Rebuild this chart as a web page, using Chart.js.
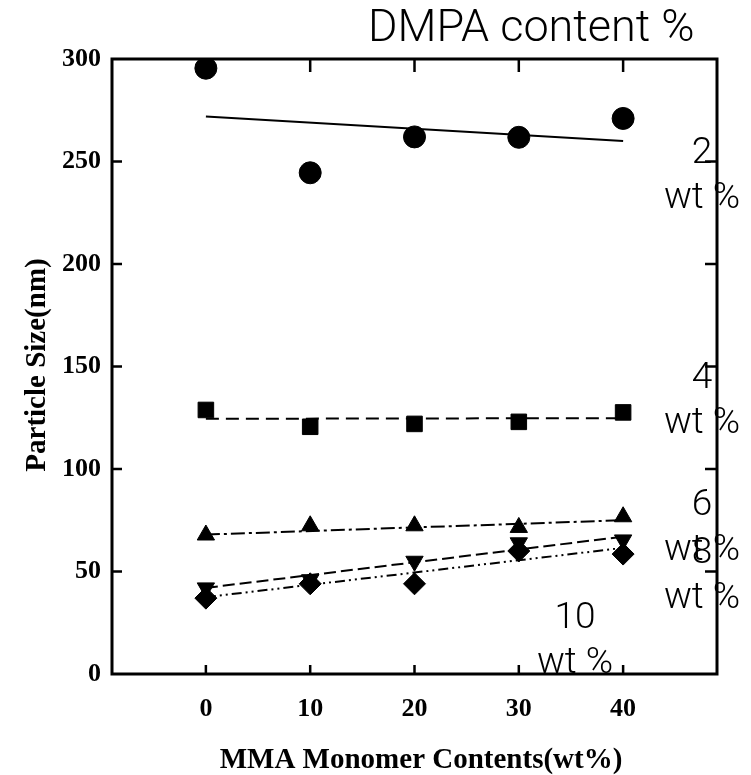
<!DOCTYPE html>
<html>
<head>
<meta charset="utf-8">
<script src="https://cdn.jsdelivr.net/npm/chart.js@4.4.1/dist/chart.umd.min.js"></script>
<style>
  html, body { margin: 0; padding: 0; background: #fff; }
</style>
</head>
<body>
<canvas id="particulas" width="751" height="775"></canvas>
<script>
// MMA monomer content (wt%) on the x axis
const mmaContent = [0, 10, 20, 30, 40];

// particle size (nm) for each DMPA content
const dmpa2 = [295.5, 244.5, 262, 261.8, 271];
const dmpa4 = [128.8, 120.6, 122, 123, 127.6];
const dmpa6 = [67.8, 72.3, 72.3, 71.5, 76.7];
const dmpa8 = [42, 46, 55, 64, 65.4];
const dmpa10 = [37, 44, 44, 60, 58.5];

// trend lines, drawn from the first to the last x value
const fitX = [0, 40];
const fit2 = [272, 260];
const fit4 = [124.5, 124.8];
const fit6 = [68, 75];
const fit8 = [42, 67];
const fit10 = [37.5, 61.5];

const xTicks = [0, 10, 20, 30, 40];
const yTicks = [0, 50, 100, 150, 200, 250, 300];
const dmpaLabels = ["2", "4", "6", "8", "10"];
const unitLabel = "wt %";

const pts = (xs, ys) => xs.map((x, i) => ({ x: x, y: ys[i] }));

function marcadores(data, style, radius, rotation) {
  return {
    data: pts(mmaContent, data),
    showLine: false,
    pointStyle: style,
    pointRadius: radius,
    pointRotation: rotation || 0,
    backgroundColor: "#000",
    borderColor: "#000",
    borderWidth: 1,
  };
}

function tendencia(data, dash) {
  return {
    data: pts(fitX, data),
    showLine: true,
    pointRadius: 0,
    borderColor: "#000",
    borderWidth: 2,
    borderDash: dash,
    fill: false,
  };
}

const serif = "'Liberation Serif', 'Times New Roman', serif";
const sans = "Roboto, 'Liberation Sans', sans-serif";

// box, inward ticks and free text
const moldura = {
  id: "moldura",
  afterDraw(chart) {
    const c = chart.ctx;
    const a = chart.chartArea;
    const sx = chart.scales.x;
    const sy = chart.scales.y;
    c.save();
    c.strokeStyle = "#000";
    c.lineWidth = 3;
    c.strokeRect(a.left, a.top, a.right - a.left, a.bottom - a.top);
    c.lineWidth = 2.5;
    c.beginPath();
    xTicks.forEach(v => {
      const px = sx.getPixelForValue(v);
      c.moveTo(px, a.bottom); c.lineTo(px, a.bottom - 9);
      c.moveTo(px, a.top); c.lineTo(px, a.top + 13);
    });
    yTicks.slice(1, -1).forEach(v => {
      const py = sy.getPixelForValue(v);
      c.moveTo(a.left, py); c.lineTo(a.left + 10, py);
      c.moveTo(a.right, py); c.lineTo(a.right - 12, py);
    });
    c.stroke();

    // axis titles
    c.fillStyle = "#000";
    c.font = "bold 29px " + serif;
    c.textAlign = "center";
    c.textBaseline = "alphabetic";
    c.fillText("MMA Monomer Contents(wt%)", 421, 768);
    c.save();
    c.translate(45, 365);
    c.rotate(-Math.PI / 2);
    c.fillText("Particle Size(nm)", 0, 0);
    c.restore();

    // DMPA annotations
    c.font = "300 45px " + sans;
    c.textAlign = "left";
    c.fillText("DMPA content %", 368, 41);
    c.font = "300 37px " + sans;
    c.textAlign = "center";
    const spots = [[702, 163], [702, 388], [702, 515], [702, 563], [575, 628]];
    dmpaLabels.forEach((t, i) => {
      const [x, y] = spots[i];
      c.fillText(t, x, y);
      c.fillText(unitLabel, x, y + 45);
    });
    c.restore();
  }
};

new Chart(document.getElementById("particulas"), {
  type: "scatter",
  data: {
    datasets: [
      tendencia(fit2, []),
      tendencia(fit4, [13, 7]),
      tendencia(fit6, [14, 4, 3, 4]),
      tendencia(fit8, [12, 5]),
      tendencia(fit10, [10, 4, 2, 4, 2, 4]),
      marcadores(dmpa2, "circle", 11),
      marcadores(dmpa4, "rect", 11),
      marcadores(dmpa6, "triangle", 10),
      marcadores(dmpa8, "triangle", 10, 180),
      marcadores(dmpa10, "rectRot", 11),
    ],
  },
  options: {
    responsive: false,
    animation: false,
    devicePixelRatio: 1,
    layout: { padding: { top: 59, right: 34, left: 0, bottom: 0 } },
    plugins: { legend: { display: false }, tooltip: { enabled: false } },
    scales: {
      x: {
        type: "linear",
        min: -9,
        max: 49,
        afterBuildTicks: s => { s.ticks = xTicks.map(v => ({ value: v })); },
        afterFit: s => { s.height = 101; },
        grid: { display: false, drawTicks: false },
        border: { display: false },
        ticks: {
          color: "#000",
          padding: 20,
          font: { family: serif, weight: "bold", size: 26 },
        },
      },
      y: {
        min: 0,
        max: 300,
        afterBuildTicks: s => { s.ticks = yTicks.map(v => ({ value: v })); },
        afterFit: s => { s.width = 112; },
        grid: { display: false, drawTicks: false },
        border: { display: false },
        ticks: {
          color: "#000",
          padding: 11,
          font: { family: serif, weight: "bold", size: 26 },
        },
      },
    },
  },
  plugins: [moldura],
});
</script>
</body>
</html>
